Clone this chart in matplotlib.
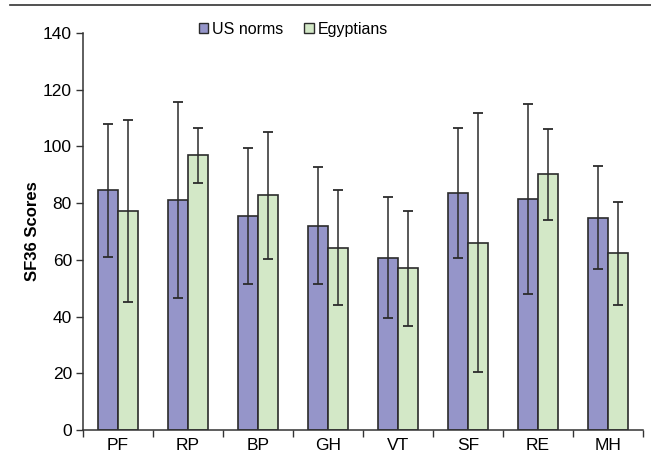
import numpy as np
import matplotlib.pyplot as plt
from matplotlib.lines import Line2D

plt.rcParams["font.family"] = ["Liberation Sans", "DejaVu Sans"]

categories = ["PF", "RP", "BP", "GH", "VT", "SF", "RE", "MH"]
us_mean = [84.5, 81.2, 75.4, 72.1, 60.8, 83.6, 81.6, 74.9]
us_sd = [23.5, 34.5, 24.0, 20.6, 21.3, 23.0, 33.5, 18.3]
eg_mean = [77.3, 96.8, 82.7, 64.3, 57.0, 66.1, 90.2, 62.3]
eg_sd = [32.0, 9.6, 22.3, 20.4, 20.3, 45.6, 16.0, 18.2]

us_color = "#9595c9"
eg_color = "#d3e8c7"
edge = "#2b2b2b"

fig = plt.figure(figsize=(6.51, 4.62), dpi=100)
ax = fig.add_axes([0.1275, 0.0693, 0.8602, 0.8593])

x = np.arange(len(categories))
w = 0.2857
ax.bar(x - w / 2, us_mean, w, color=us_color, edgecolor=edge, linewidth=1.2, zorder=2)
ax.bar(x + w / 2, eg_mean, w, color=eg_color, edgecolor=edge, linewidth=1.2, zorder=2)
ax.errorbar(x - w / 2, us_mean, yerr=us_sd, fmt="none", ecolor=edge,
            elinewidth=1.1, capsize=3.5, capthick=1.3, zorder=3)
ax.errorbar(x + w / 2, eg_mean, yerr=eg_sd, fmt="none", ecolor=edge,
            elinewidth=1.1, capsize=3.5, capthick=1.3, zorder=3)

ax.set_xlim(-0.5, len(categories) - 0.5)
ax.set_ylim(0, 140)
ax.set_yticks(range(0, 141, 20))
ax.set_xticks(x)
ax.set_xticklabels(categories)
ax.set_xticks(np.arange(len(categories) + 1) - 0.5, minor=True)
ax.tick_params(axis="x", which="major", length=0, pad=6, labelsize=12.5)
ax.tick_params(axis="x", which="minor", length=5, width=1, color="#333333")
ax.tick_params(axis="y", length=5, width=1, color="#333333", labelsize=12.5, pad=3)
for s in ["top", "right"]:
    ax.spines[s].set_visible(False)
for s in ["left", "bottom"]:
    ax.spines[s].set_color("#333333")
    ax.spines[s].set_linewidth(1.1)

ax.set_ylabel("SF36 Scores", fontsize=12, fontweight="bold", labelpad=2)

handles = [
    plt.Rectangle((0, 0), 1, 1, facecolor=us_color, edgecolor=edge, linewidth=1),
    plt.Rectangle((0, 0), 1, 1, facecolor=eg_color, edgecolor=edge, linewidth=1),
]
fig.legend(handles, ["US norms", "Egyptians"], loc="center", bbox_to_anchor=(0.451, 0.937),
           ncol=2, frameon=False, fontsize=11.5, handlelength=0.6, handleheight=0.6,
           handletextpad=0.25, columnspacing=1.3)

fig.add_artist(Line2D([0.015, 1.0], [0.989, 0.989], color="#333333", linewidth=1.2,
                      transform=fig.transFigure))

fig.savefig("out.png", dpi=100)
